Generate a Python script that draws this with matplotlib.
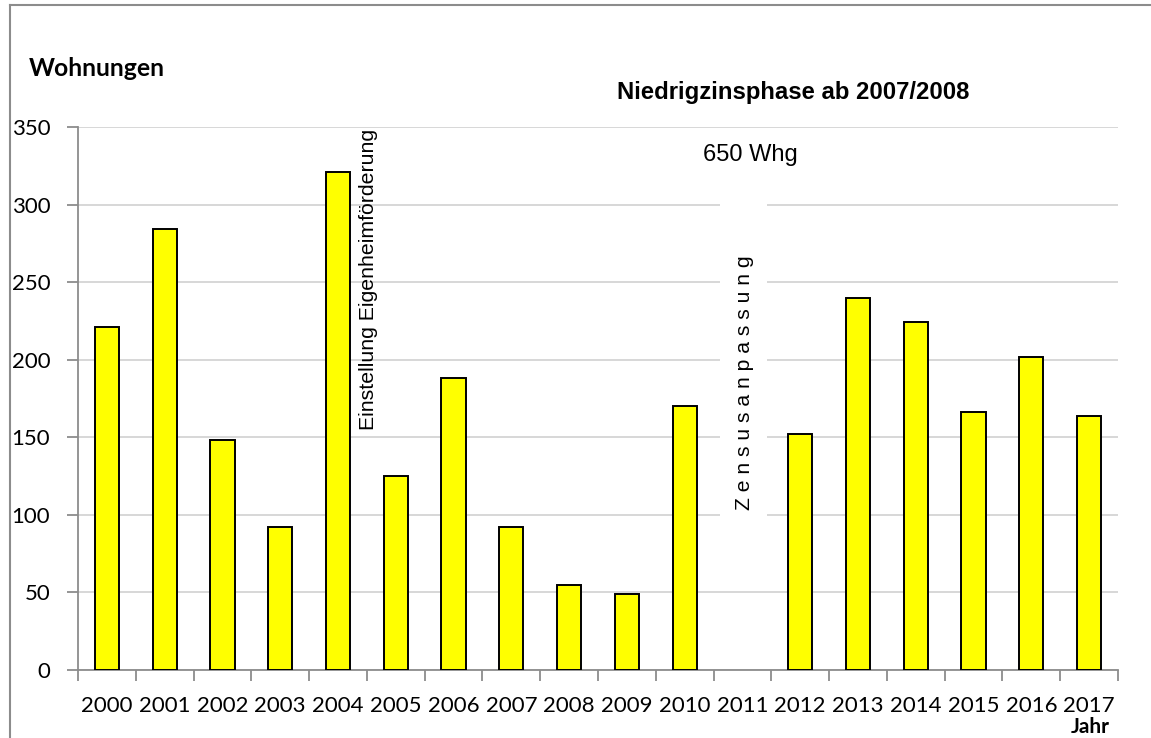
import numpy as np
import matplotlib
matplotlib.use("Agg")
import matplotlib.pyplot as plt
from matplotlib.lines import Line2D
from matplotlib.patches import Rectangle

years = [str(y) for y in range(2000, 2018)]
# 2011: 650 Whg (Zensusanpassung), not drawn on the scale
wohnungen = [221, 284, 148, 92, 321, 125, 188, 92, 55, 49, 170, np.nan,
             152, 240, 224, 166, 202, 164]
y_ticks = [0, 50, 100, 150, 200, 250, 300, 350]

W, H = 1151, 738
fig = plt.figure(figsize=(W / 100, H / 100), dpi=100)
ax = fig.add_axes([78 / W, 1 - 670 / H, 1040 / W, 543 / H])

x = np.arange(len(years))
ax.bar(x, wohnungen, width=0.42, color="#ffff00", edgecolor="black",
       linewidth=1.4, zorder=3)

ax.set_xlim(-0.5, len(years) - 0.5)
ax.set_ylim(0, 350)
ax.set_yticks(y_ticks)
ax.set_xticks(x)
ax.set_xticklabels(years)
ax.set_xticks(np.arange(-0.5, len(years)), minor=True)

axis_grey = "#8c8c8c"
ax.tick_params(axis="x", which="major", length=0, pad=19,
               labelsize=16, labelfontfamily="Lato")
ax.tick_params(axis="x", which="minor", length=8, width=1.3, color=axis_grey)
ax.tick_params(axis="y", length=8, width=1.3, color=axis_grey, pad=12,
               labelsize=16, labelfontfamily="Lato")

ax.grid(axis="y", color="#d4d4d4", linewidth=1.3, zorder=0)
ax.set_axisbelow(True)
for side in ["top", "right"]:
    ax.spines[side].set_visible(False)
for side in ["left", "bottom"]:
    ax.spines[side].set_color(axis_grey)
    ax.spines[side].set_linewidth(1.3)

# white text box behind "Zensusanpassung" breaks the gridlines
ax.add_patch(Rectangle((10.62, 97), 0.8, 222, facecolor="white",
                       edgecolor="none", zorder=1))

ax.text(4.52, 155, "Einstellung Eigenheimförderung", rotation=90,
        ha="center", va="bottom", fontsize=15.3, family="Liberation Sans",
        zorder=4)
ax.text(11.04, 185, "Z e n s u s a n p a s s u n g", rotation=90,
        ha="center", va="center", fontsize=15.2, family="Liberation Sans",
        zorder=4)

fig.text(750 / W, 1 - 155 / H, "650 Whg", ha="center", va="center",
         fontsize=17, family="Liberation Sans")
fig.text(793 / W, 1 - 92 / H, "Niedrigzinsphase ab 2007/2008",
         ha="center", va="center", fontsize=17.2, fontweight="bold",
         family="Liberation Sans")
fig.text(29 / W, 1 - 68 / H, "Wohnungen", ha="left", va="center",
         fontsize=17.8, fontweight="bold", family="Lato")
fig.text(1090 / W, 1 - 737 / H, "Jahr", ha="center", va="bottom",
         fontsize=15, fontweight="bold", family="Lato")

# outer chart frame
fig.add_artist(Line2D([9.5 / W, 9.5 / W], [0, 1 - 4.5 / H],
                      color="#8c8c8c", linewidth=1.5))
fig.add_artist(Line2D([9.5 / W, 1], [1 - 4.5 / H, 1 - 4.5 / H],
                      color="#8c8c8c", linewidth=1.5))

fig.savefig("out.png", dpi=100)
